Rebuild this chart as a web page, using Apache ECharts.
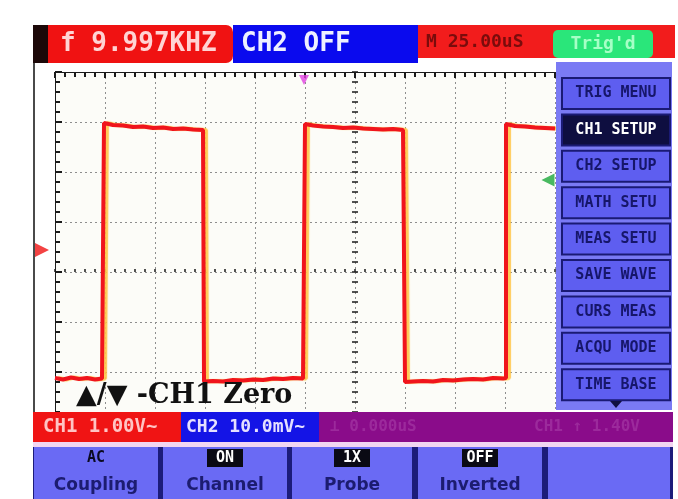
<!DOCTYPE html>
<html><head><meta charset="utf-8">
<script src="https://cdn.jsdelivr.net/npm/echarts@6/dist/echarts.min.js"></script>
<style>html,body{margin:0;padding:0;background:#fff;}#c{width:678px;height:499px;}</style>
</head><body><div id="c"></div>
<script>
// ---- data ----
// time in microseconds (25 us/div), CH1 voltage in volts (1.00 V/div)
const ch1Time = [-150,-146,-142,-138,-134,-130,-126.5,-125.5,-125.5,-121,-116,-111,-106,-101,-96,-91,-86,-81,-76,-75.5,-75.5,-71,-66,-61,-56,-51,-46,-41,-36,-31,-26,-25,-25,-21,-16,-11,-6,-1,4,9,14,19,24,25,25,29,34,39,44,49,54,59,64,69,74,75.5,75.5,80,85,90,95,100];
const ch1Volt = [-2.56,-2.59,-2.55,-2.58,-2.56,-2.59,-2.57,-2.57,2.54,2.50,2.49,2.46,2.47,2.44,2.45,2.42,2.43,2.41,2.40,2.40,-2.63,-2.62,-2.63,-2.60,-2.61,-2.59,-2.60,-2.57,-2.58,-2.56,-2.57,-2.56,2.52,2.49,2.47,2.46,2.44,2.45,2.43,2.42,2.41,2.42,2.40,2.40,-2.64,-2.63,-2.62,-2.63,-2.60,-2.61,-2.59,-2.58,-2.59,-2.56,-2.57,-2.56,2.52,2.48,2.47,2.45,2.44,2.43];
const timeRange = [-150, 100];      // us shown on screen
const timePerDiv = 25;
const divRange = [-3, 4];           // vertical divisions about screen centre
const ch1ZeroDiv = 0.44;            // CH1 zero marker offset (div)
const triggerTime = -25.5;          // trigger position marker (us)
const triggerLevel = 1.4;           // trigger level (V)
const ch1Zero = 0;
const topTexts = ['f 9.997KHZ', 'CH2 OFF', 'M 25.00uS', "Trig'd"];
const statusTexts = ['CH1 1.00V~', 'CH2 10.0mV~', '\u22a5 0.000uS', 'CH1 \u2191 1.40V'];
const menuItems = ['TRIG MENU','CH1 SETUP','CH2 SETUP','MATH SETU','MEAS SETU','SAVE WAVE','CURS MEAS','ACQU MODE','TIME BASE'];
const activeMenu = 1;
const btnTop = ['AC','ON','1X','OFF',''];
const btnBottom = ['Coupling','Channel','Probe','Inverted',''];
const hint = '\u25b2/\u25bc -CH1 Zero';

// ---- chart ----
const chart = echarts.init(document.getElementById('c'));
const mono = '"DejaVu Sans Mono", monospace';
const G = [];
function rect(x,y,w,h,fill,extra){G.push({type:'rect',z:100,shape:{x:x,y:y,width:w,height:h,r:(extra&&extra.r)||0},style:Object.assign({fill:fill},(extra&&extra.style)||{})});}
function text(x,y,t,font,fill,align,extra){G.push({type:'text',z:110,x:x,y:y,style:Object.assign({text:t,font:font,fill:fill,textAlign:align||'left',textVerticalAlign:'middle'},extra||{})});}

// left frame
G.push({type:'line',z:100,shape:{x1:34,y1:62,x2:34,y2:412},style:{stroke:'#4a4a4a',lineWidth:2}});
// top bar
rect(33,25,16,38,'#1c0808');
rect(48,25,185,38,'#f01212',{r:[0,7,7,0]});
text(60,44,topTexts[0],'bold 26px '+mono,'#ffd4d4');
rect(233,25,185,38,'#0a0aee');
text(241,44,topTexts[1],'bold 26px '+mono,'#eef0ff');
rect(418,25,257,33,'#f21c1c');
text(426,42,topTexts[2],'bold 18px '+mono,'#7a0c0c');
rect(553,30,100,28,'#2ae67a',{r:5});
text(603,44,topTexts[3],'bold 18px '+mono,'#a6ffc6','center');
// right menu panel
rect(556,62,116,348,'#7a7af4');
menuItems.forEach(function(m,i){
  const y = 78 + i*36.4;
  const on = i===activeMenu;
  rect(562,y,108,31,on?'#0e0e40':'#5e5ef0',{style:{stroke:'#1a1a74',lineWidth:2}});
  text(616,y+15.5,m,'bold 15px '+mono,on?'#ffffff':'#16166a','center');
});
G.push({type:'polygon',z:110,shape:{points:[[610,401],[622,401],[616,408]]},style:{fill:'#101040'}});
// status bar
rect(33,412,148,30,'#f01414');
text(43,427,statusTexts[0],'bold 19px '+mono,'#ffc4c4');
rect(181,412,138,30,'#1414e6');
text(186,427,statusTexts[1],'bold 18px '+mono,'#e6e0ff');
rect(319,412,354,30,'#8a0c8a');
text(330,427,statusTexts[2],'bold 16px '+mono,'#9c2a9c');
text(640,427,statusTexts[3],'bold 16px '+mono,'#9c2a9c','right');
rect(33,442,640,5,'#f2d6f2');
// bottom soft buttons
rect(33,447,640,52,'#1c1c7a');
const btnX = [[34,158],[163,287],[292,412],[418,542],[548,670]];
btnX.forEach(function(b,i){
  rect(b[0],447,b[1]-b[0],52,'#6a6af4');
  const cx = (b[0]+b[1])/2;
  if (btnTop[i]) {
    if (i>0) rect(cx-18,449,36,18,'#0a0a14');
    text(cx,458,btnTop[i],'bold 15px '+mono,i>0?'#ffffff':'#0a0a20','center');
  }
  if (btnBottom[i]) text(cx,486,btnBottom[i],'bold 17px "DejaVu Sans", sans-serif','#1c1c70','center');
});
// hint text
text(76,396,hint,'bold 27px "DejaVu Serif", serif','#111111');

const gridDot = {show:true,lineStyle:{color:'#8e8e8e',width:1,type:[2,3]}};
const tickStyle = {color:'#1a1a1a',width:1.5};
function centreX(inside){return {type:'value',gridIndex:0,min:timeRange[0],max:timeRange[1],interval:timePerDiv,
  axisLine:{show:false,onZero:true,onZeroAxisIndex:0},axisTick:{show:true,inside:inside,length:3,lineStyle:tickStyle},
  minorTick:{show:true,splitNumber:5,length:3,lineStyle:tickStyle},axisLabel:{show:false},splitLine:{show:false}};}
function centreY(inside){return {type:'value',gridIndex:0,min:divRange[0],max:divRange[1],interval:1,
  axisLine:{show:false,onZero:true,onZeroAxisIndex:0},axisTick:{show:true,inside:inside,length:3,lineStyle:tickStyle},
  minorTick:{show:true,splitNumber:5,length:3,lineStyle:tickStyle},axisLabel:{show:false},splitLine:{show:false}};}

const option = {
  animation:false,
  backgroundColor:'#ffffff',
  grid:{left:55,top:72,width:500,height:350,show:true,backgroundColor:'#fcfcf8',borderWidth:0},
  xAxis:[
    {type:'value',min:timeRange[0],max:timeRange[1],interval:timePerDiv,position:'top',
     axisLine:{show:true,onZero:false,lineStyle:{color:'#1a1a1a',width:1}},
     axisTick:{show:true,inside:true,length:6,lineStyle:{color:'#1a1a1a',width:2}},
     minorTick:{show:true,splitNumber:5,length:5,lineStyle:{color:'#1a1a1a',width:2}},
     axisLabel:{show:false},splitLine:gridDot},
    centreX(true), centreX(false)
  ],
  yAxis:[
    {type:'value',min:divRange[0],max:divRange[1],interval:1,position:'left',
     axisLine:{show:true,onZero:false,lineStyle:{color:'#1a1a1a',width:1}},
     axisTick:{show:true,inside:true,length:7,lineStyle:{color:'#1a1a1a',width:2}},
     minorTick:{show:true,splitNumber:5,length:5,lineStyle:{color:'#1a1a1a',width:2}},
     axisLabel:{show:false},splitLine:gridDot},
    {type:'value',show:false,min:divRange[0]-ch1ZeroDiv,max:divRange[1]-ch1ZeroDiv,axisLine:{onZero:false}},
    centreY(true), centreY(false)
  ],
  series:[
    {type:'line',xAxisIndex:0,yAxisIndex:1,showSymbol:false,symbol:'none',z:5,
     data:ch1Time.map(function(t,i){return [t,ch1Volt[i]];}),
     lineStyle:{color:'#f0141c',width:4,shadowColor:'rgba(255,196,70,0.9)',shadowOffsetX:3,shadowBlur:1}},
    {type:'scatter',xAxisIndex:0,yAxisIndex:0,clip:false,z:6,symbol:'triangle',symbolSize:[10,10],symbolRotate:180,
     itemStyle:{color:'#e040e0'},data:[[triggerTime,3.84]]},
    {type:'scatter',xAxisIndex:0,yAxisIndex:1,clip:false,z:6,symbol:'triangle',symbolSize:[14,14],symbolRotate:-90,
     itemStyle:{color:'#f01414'},data:[[-156.5,ch1Zero]]},
    {type:'scatter',xAxisIndex:0,yAxisIndex:1,clip:false,z:6,symbol:'triangle',symbolSize:[13,13],symbolRotate:90,
     itemStyle:{color:'#1aa83a'},data:[[96.5,triggerLevel]]}
  ],
  graphic:{elements:G}
};
chart.setOption(option);
</script></body></html>
